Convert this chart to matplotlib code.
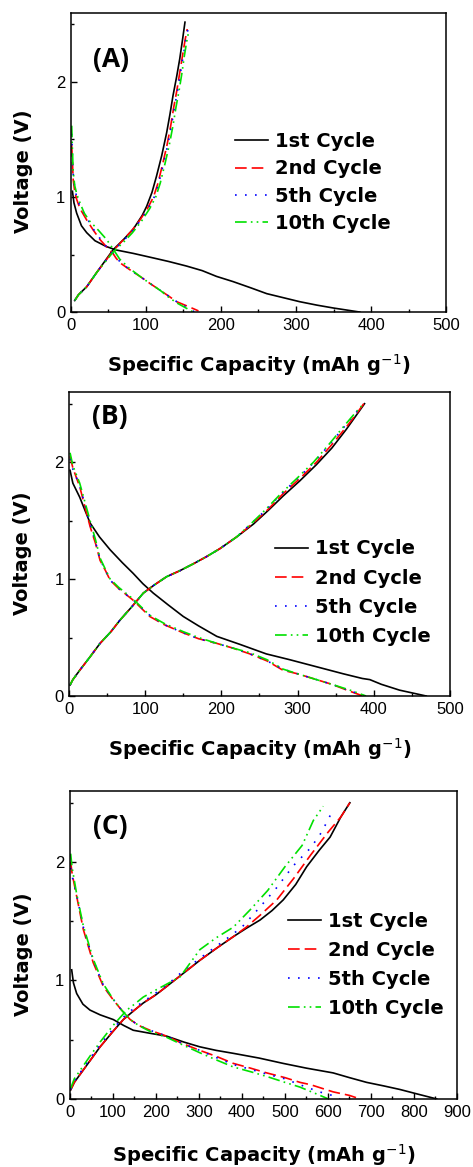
import matplotlib
matplotlib.use("Agg")
import matplotlib.pyplot as plt
from matplotlib.ticker import MultipleLocator

# ---------------- data ----------------
cycle_labels = ["1st Cycle", "2nd Cycle", "5th Cycle", "10th Cycle"]
panel_tags = ["(A)", "(B)", "(C)"]
xlims = [500, 500, 900]
x_major = [100, 100, 100]

# Panel A
a1_dis_x = [2, 4, 7.6, 14, 21, 32, 47, 60, 83, 110, 130, 154, 175, 194, 216, 240, 261, 283, 305, 328, 350, 370, 385]
a1_dis_y = [1.05, 0.95, 0.86, 0.75, 0.69, 0.62, 0.57, 0.54, 0.51, 0.47, 0.44, 0.40, 0.36, 0.31, 0.265, 0.21, 0.16, 0.125, 0.09, 0.06, 0.035, 0.015, 0.0]
a1_chg_x = [5, 10, 21, 35, 56, 70, 83, 95, 101, 108, 114, 121, 127.6, 132, 136, 141, 145, 149, 152]
a1_chg_y = [0.10, 0.15, 0.22, 0.35, 0.54, 0.63, 0.72, 0.84, 0.92, 1.04, 1.18, 1.36, 1.56, 1.72, 1.88, 2.05, 2.2, 2.38, 2.52]

a2_dis_x = [1, 2, 3, 5, 7.6, 12, 21, 30, 38.7, 47, 56, 60, 65, 78, 92, 105, 118.7, 130, 141, 152, 163, 170]
a2_dis_y = [1.45, 1.3, 1.15, 1.05, 0.98, 0.9, 0.8, 0.71, 0.63, 0.57, 0.51, 0.47, 0.43, 0.37, 0.31, 0.25, 0.19, 0.14, 0.09, 0.06, 0.03, 0.01]
a2_chg_x = [5, 10, 21, 35, 56, 70, 80, 92, 102, 110, 116, 122, 128, 133, 137, 141, 145, 149, 152, 155]
a2_chg_y = [0.10, 0.15, 0.22, 0.35, 0.53, 0.63, 0.70, 0.80, 0.90, 1.00, 1.12, 1.28, 1.45, 1.62, 1.78, 1.92, 2.08, 2.24, 2.36, 2.46]

a5_dis_x = [1, 2, 3, 5, 7.6, 12, 21, 30, 38.7, 47, 56, 65, 78, 92, 105, 118.7, 130, 141, 152, 165]
a5_dis_y = [1.55, 1.35, 1.2, 1.08, 1.0, 0.92, 0.82, 0.72, 0.64, 0.57, 0.51, 0.44, 0.37, 0.31, 0.25, 0.19, 0.14, 0.09, 0.05, 0.0]
a5_chg_x = [5, 10, 21, 35, 56, 70, 80, 92, 103, 111, 117, 123, 129, 134, 138, 142, 146, 150, 153, 156]
a5_chg_y = [0.10, 0.15, 0.22, 0.35, 0.53, 0.62, 0.69, 0.79, 0.90, 1.00, 1.12, 1.28, 1.45, 1.62, 1.78, 1.92, 2.08, 2.24, 2.36, 2.46]

a10_dis_x = [1, 2, 3, 5, 8, 12, 17.7, 25, 34, 47.6, 56, 65, 78, 92, 105, 118.7, 130, 141, 152, 163]
a10_dis_y = [1.62, 1.4, 1.22, 1.1, 1.02, 0.95, 0.86, 0.79, 0.73, 0.63, 0.55, 0.46, 0.38, 0.31, 0.25, 0.19, 0.13, 0.08, 0.04, 0.0]
a10_chg_x = [5, 10, 21, 35, 56, 72, 82, 94, 105, 113, 119, 125, 131, 136, 140, 144, 148, 151, 154, 157]
a10_chg_y = [0.10, 0.15, 0.22, 0.35, 0.52, 0.62, 0.69, 0.79, 0.90, 1.00, 1.12, 1.28, 1.45, 1.62, 1.78, 1.92, 2.08, 2.22, 2.34, 2.44]

# Panel B
b1_dis_x = [1.3, 5, 14, 27.6, 40, 54, 70, 84, 97, 110.6, 130, 150, 170, 194, 225, 259, 290, 325, 360, 385, 395, 410, 434, 455, 469]
b1_dis_y = [1.93, 1.82, 1.70, 1.48, 1.36, 1.25, 1.14, 1.05, 0.96, 0.88, 0.78, 0.68, 0.60, 0.51, 0.44, 0.36, 0.31, 0.25, 0.19, 0.15, 0.14, 0.10, 0.05, 0.02, 0.0]
b1_chg_x = [1.3, 5, 14, 27, 40.7, 55, 67, 82, 97.5, 112, 128, 145, 163, 180, 198, 220, 242, 262, 281, 303, 325, 345, 364, 376, 388]
b1_chg_y = [0.094, 0.14, 0.22, 0.33, 0.45, 0.55, 0.65, 0.76, 0.88, 0.95, 1.02, 1.07, 1.13, 1.19, 1.26, 1.36, 1.47, 1.59, 1.71, 1.84, 1.98, 2.12, 2.28, 2.39, 2.50]

b2_dis_x = [1.3, 5, 14, 27.6, 35, 40.7, 48, 54, 65, 84, 106, 125, 150, 170, 194, 215, 237.5, 260, 281, 300, 325, 345, 369, 386]
b2_dis_y = [2.05, 1.95, 1.79, 1.45, 1.30, 1.16, 1.07, 0.99, 0.92, 0.82, 0.68, 0.61, 0.54, 0.49, 0.45, 0.41, 0.36, 0.30, 0.22, 0.19, 0.14, 0.10, 0.04, 0.0]
b2_chg_x = [1.3, 5, 14, 27, 40.7, 55, 67, 82, 97.5, 112, 128, 145, 163, 180, 198, 220, 242, 262, 281, 303, 325, 345, 364, 376, 387]
b2_chg_y = [0.094, 0.14, 0.22, 0.33, 0.45, 0.55, 0.65, 0.76, 0.88, 0.95, 1.02, 1.07, 1.13, 1.19, 1.26, 1.36, 1.48, 1.60, 1.73, 1.86, 2.0, 2.15, 2.30, 2.40, 2.50]

b5_dis_x = [1.3, 5, 14, 27.6, 35, 40.7, 48, 54, 65, 84, 106, 125, 150, 170, 194, 215, 237.5, 260, 281, 300, 325, 345, 369, 388]
b5_dis_y = [2.03, 1.94, 1.80, 1.47, 1.31, 1.17, 1.07, 0.99, 0.92, 0.82, 0.69, 0.61, 0.54, 0.49, 0.45, 0.41, 0.36, 0.30, 0.23, 0.19, 0.14, 0.10, 0.045, 0.0]
b5_chg_x = [1.3, 5, 14, 27, 40.7, 55, 67, 82, 97.5, 112, 128, 145, 163, 180, 198, 220, 240, 260, 279, 300, 322, 342, 361, 374, 385]
b5_chg_y = [0.094, 0.14, 0.22, 0.33, 0.45, 0.55, 0.65, 0.76, 0.88, 0.95, 1.02, 1.07, 1.13, 1.19, 1.26, 1.36, 1.48, 1.60, 1.73, 1.86, 2.0, 2.15, 2.30, 2.40, 2.49]

b10_dis_x = [1.3, 5, 14, 27.6, 35, 40.7, 48, 54, 65, 84, 106, 125, 150, 170, 194, 215, 237.5, 260, 281, 300, 325, 345, 369, 390]
b10_dis_y = [2.08, 1.97, 1.82, 1.50, 1.33, 1.18, 1.08, 1.0, 0.93, 0.83, 0.69, 0.62, 0.55, 0.50, 0.45, 0.41, 0.37, 0.31, 0.23, 0.19, 0.14, 0.10, 0.05, 0.0]
b10_chg_x = [1.3, 5, 14, 27, 40.7, 55, 67, 82, 97.5, 112, 128, 145, 163, 180, 198, 220, 240, 259, 278, 299, 321, 341, 360, 373, 384]
b10_chg_y = [0.094, 0.14, 0.22, 0.33, 0.45, 0.55, 0.65, 0.76, 0.88, 0.95, 1.02, 1.07, 1.13, 1.19, 1.26, 1.36, 1.48, 1.60, 1.73, 1.86, 2.0, 2.15, 2.30, 2.40, 2.48]

# Panel C
c1_dis_x = [3.9, 8, 15.5, 30, 46.5, 70, 100.8, 125, 147, 185, 225, 265, 302, 340, 380, 440, 496, 550, 612, 650, 690, 730, 767.5, 810, 853]
c1_dis_y = [1.09, 0.98, 0.89, 0.80, 0.75, 0.71, 0.67, 0.62, 0.58, 0.555, 0.53, 0.48, 0.44, 0.41, 0.385, 0.345, 0.30, 0.26, 0.22, 0.18, 0.14, 0.11, 0.08, 0.04, 0.0]
c1_chg_x = [1.5, 10, 31, 50, 70, 100, 124, 150, 170.5, 200, 225, 260, 302, 340, 380, 410, 442, 470, 496, 525, 550.5, 580, 605, 630, 651]
c1_chg_y = [0.076, 0.14, 0.245, 0.34, 0.44, 0.57, 0.67, 0.75, 0.81, 0.88, 0.95, 1.05, 1.17, 1.27, 1.37, 1.44, 1.51, 1.59, 1.68, 1.81, 1.96, 2.10, 2.21, 2.38, 2.50]

c2_dis_x = [1.5, 5, 15.5, 31, 54, 77.5, 100.8, 120, 140, 160, 186, 225, 260, 302, 340, 380, 420, 457.5, 500, 535, 560, 612, 650, 674.5]
c2_dis_y = [2.0, 1.9, 1.71, 1.43, 1.15, 0.95, 0.835, 0.75, 0.67, 0.62, 0.58, 0.53, 0.47, 0.41, 0.36, 0.30, 0.26, 0.22, 0.18, 0.14, 0.12, 0.06, 0.03, 0.0]
c2_chg_x = [1.5, 10, 31, 50, 70, 100, 124, 150, 170.5, 200, 225, 260, 302, 340, 380, 410, 442, 481, 520, 560, 600, 630, 651]
c2_chg_y = [0.076, 0.14, 0.245, 0.34, 0.44, 0.57, 0.67, 0.75, 0.81, 0.88, 0.95, 1.05, 1.17, 1.27, 1.37, 1.45, 1.55, 1.68, 1.86, 2.06, 2.25, 2.38, 2.50]

c5_dis_x = [1.5, 5, 15.5, 31, 54, 77.5, 100.8, 120, 140, 160, 186, 225, 260, 302, 340, 380, 420, 457.5, 500, 535, 580, 610, 628]
c5_dis_y = [1.95, 1.88, 1.72, 1.45, 1.17, 0.96, 0.84, 0.75, 0.67, 0.62, 0.58, 0.53, 0.47, 0.41, 0.35, 0.29, 0.25, 0.21, 0.17, 0.12, 0.06, 0.03, 0.0]
c5_chg_x = [1.5, 10, 31, 50, 70, 100, 124, 150, 186, 225, 260, 318, 360, 400, 442, 480, 520, 560, 585, 612]
c5_chg_y = [0.08, 0.15, 0.26, 0.36, 0.46, 0.59, 0.69, 0.77, 0.86, 0.96, 1.07, 1.23, 1.34, 1.45, 1.62, 1.78, 1.97, 2.12, 2.25, 2.44]

c10_dis_x = [1.5, 5, 15.5, 31, 54, 77.5, 100.8, 120, 140, 160, 186, 225, 260, 302, 340, 380, 420, 457.5, 500, 535, 575, 601]
c10_dis_y = [2.07, 1.95, 1.73, 1.46, 1.18, 0.97, 0.84, 0.75, 0.67, 0.62, 0.57, 0.52, 0.46, 0.39, 0.33, 0.27, 0.23, 0.19, 0.14, 0.10, 0.04, 0.0]
c10_chg_x = [1.5, 10, 31, 50, 70, 100, 132, 150, 170.5, 200, 256, 302, 340, 380, 420, 460, 500, 540, 566, 589]
c10_chg_y = [0.09, 0.17, 0.28, 0.38, 0.48, 0.62, 0.75, 0.80, 0.86, 0.92, 1.03, 1.26, 1.36, 1.45, 1.60, 1.76, 1.96, 2.14, 2.35, 2.47]

panel_curves = [
    [(a1_dis_x, a1_dis_y, a1_chg_x, a1_chg_y), (a2_dis_x, a2_dis_y, a2_chg_x, a2_chg_y),
     (a5_dis_x, a5_dis_y, a5_chg_x, a5_chg_y), (a10_dis_x, a10_dis_y, a10_chg_x, a10_chg_y)],
    [(b1_dis_x, b1_dis_y, b1_chg_x, b1_chg_y), (b2_dis_x, b2_dis_y, b2_chg_x, b2_chg_y),
     (b5_dis_x, b5_dis_y, b5_chg_x, b5_chg_y), (b10_dis_x, b10_dis_y, b10_chg_x, b10_chg_y)],
    [(c1_dis_x, c1_dis_y, c1_chg_x, c1_chg_y), (c2_dis_x, c2_dis_y, c2_chg_x, c2_chg_y),
     (c5_dis_x, c5_dis_y, c5_chg_x, c5_chg_y), (c10_dis_x, c10_dis_y, c10_chg_x, c10_chg_y)],
]

# ---------------- style ----------------
colors = ["black", "#ff0000", "#0000ff", "#00e000"]
styles = ["-", (0, (7, 3)), (0, (1, 5)), (0, (7, 2.5, 1, 2.5, 1, 2.5))]
lw = 1.2

axes_rects = [
    [0.150, 0.7326, 0.793, 0.2563],
    [0.146, 0.4036, 0.805, 0.2605],
    [0.148, 0.0583, 0.818, 0.2640],
]
ylabel_x = [-0.101, -0.097, -0.096]
xlabel_y = [-0.134, -0.132, -0.139]
tag_pos = [(0.059, 0.843), (0.060, 0.919), (0.059, 0.883)]
legend_anchor = [(0.437, 0.602), (0.541, 0.515), (0.563, 0.607)]
legend_spacing = [0.43, 0.52, 0.52]

fig = plt.figure(figsize=(4.73, 11.67), dpi=100)
tick_font = "Liberation Sans"
label_font = "DejaVu Sans"

for i in range(3):
    ax = fig.add_axes(axes_rects[i])
    for j in range(4):
        dx, dy, cx, cy = panel_curves[i][j]
        ax.plot(dx, dy, color=colors[j], linestyle=styles[j], lw=lw, label=cycle_labels[j])
        ax.plot(cx, cy, color=colors[j], linestyle=styles[j], lw=lw)
    ax.set_xlim(0, xlims[i])
    ax.set_ylim(0, 2.6)
    ax.xaxis.set_major_locator(MultipleLocator(x_major[i]))
    ax.xaxis.set_minor_locator(MultipleLocator(x_major[i] / 2))
    ax.yaxis.set_major_locator(MultipleLocator(1))
    ax.yaxis.set_minor_locator(MultipleLocator(0.5))
    ax.tick_params(which="both", direction="in", top=False, right=False)
    ax.tick_params(which="major", length=4, width=1, labelsize=12, pad=4)
    ax.tick_params(which="minor", length=2.5, width=1)
    for lab in ax.get_xticklabels() + ax.get_yticklabels():
        lab.set_fontfamily(tick_font)
    for sp in ax.spines.values():
        sp.set_linewidth(1.1)
    ax.set_xlabel("Specific Capacity (mAh g$^{-1}$)", fontsize=14, fontweight="bold", family=label_font)
    ax.set_ylabel("Voltage (V)", fontsize=14, fontweight="bold", family=label_font)
    ax.xaxis.set_label_coords(0.5, xlabel_y[i])
    ax.yaxis.set_label_coords(ylabel_x[i], 0.47)
    ax.text(tag_pos[i][0], tag_pos[i][1], panel_tags[i], transform=ax.transAxes,
            fontsize=19, fontweight="bold", family="Open Sans", va="center", ha="left")
    leg = ax.legend(loc="upper left", bbox_to_anchor=legend_anchor[i], frameon=False,
                    prop={"family": label_font, "weight": "bold", "size": 14},
                    handlelength=1.7, handletextpad=0.35, labelspacing=legend_spacing[i],
                    borderpad=0, borderaxespad=0)

fig.savefig("out.png", dpi=100)
